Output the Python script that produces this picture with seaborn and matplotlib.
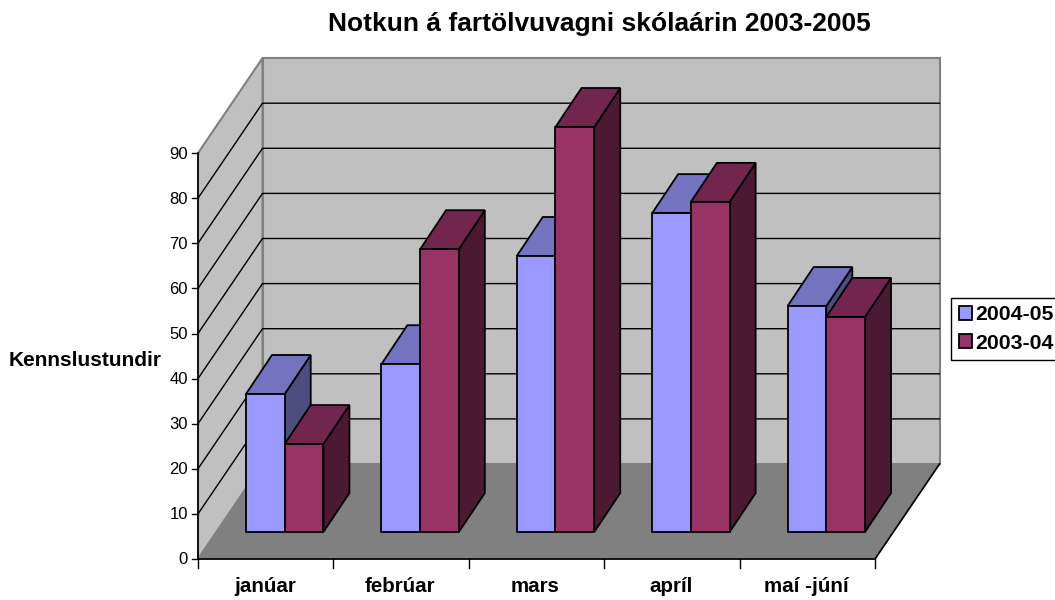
import seaborn as sns
import matplotlib.pyplot as plt
import pandas as pd
from matplotlib.patches import Polygon

months = ["janúar", "febrúar", "mars", "apríl", "maí -júní"]
hours_0405 = [30.6, 37.2, 61.2, 70.7, 50.1]
hours_0304 = [19.5, 62.7, 89.8, 73.2, 47.7]
series = ["2004-05", "2003-04"]
value_ticks = list(range(0, 100, 10))

front_col = {"2004-05": "#9999FF", "2003-04": "#993366"}
top_col = {"2004-05": "#7373BF", "2003-04": "#73264D"}
side_col = {"2004-05": "#4D4D80", "2003-04": "#4C1933"}

plt.rcParams["font.family"] = ["Liberation Sans", "DejaVu Sans"]

df = pd.DataFrame({
    "month": months * 2,
    "hours": hours_0405 + hours_0304,
    "year": [series[0]] * 5 + [series[1]] * 5,
})

fig = plt.figure(figsize=(10.55, 6), dpi=100)
ax = fig.add_axes([0, 0, 1, 1])
sns.barplot(data=df, x="month", y="hours", hue="year", hue_order=series, order=months,
            palette=front_col, width=0.572, gap=0, saturation=1,
            edgecolor="black", linewidth=1.3, ax=ax)

# data units <-> pixels of the picture, bar bases sit at value 0
cat_px = 135.4
val_px = 4.51
left_px = 217
base_px = 532
ax.set_xlim(-0.5 - left_px / cat_px, -0.5 + (1055 - left_px) / cat_px)
ax.set_ylim((base_px - 600) / val_px, base_px / val_px)
ax.axis("off")

# depth offsets, in data units
floor_dx, floor_dy = 19 / cat_px, 27 / val_px      # front of the floor -> bar base
wall_dx, wall_dy = 64.5 / cat_px, 95 / val_px      # front of the floor -> back wall
bar_dx, bar_dy = 26 / cat_px, 39 / val_px          # bar depth

x0 = -0.5 - floor_dx
x1 = 4.5 - floor_dx
y0 = -floor_dy
ytop = y0 + value_ticks[-1]

wall_edge = "#808080"
ax.add_patch(Polygon([(x0 + wall_dx, y0 + wall_dy), (x1 + wall_dx, y0 + wall_dy),
                      (x1 + wall_dx, ytop + wall_dy), (x0 + wall_dx, ytop + wall_dy)],
                     fc="#C0C0C0", ec=wall_edge, lw=1.5, zorder=1))
ax.add_patch(Polygon([(x0, y0), (x0 + wall_dx, y0 + wall_dy),
                      (x0 + wall_dx, ytop + wall_dy), (x0, ytop)],
                     fc="#C0C0C0", ec=wall_edge, lw=1.5, zorder=1))
ax.add_patch(Polygon([(x0, y0), (x1, y0), (x1 + wall_dx, y0 + wall_dy), (x0 + wall_dx, y0 + wall_dy)],
                     fc="#808080", ec=wall_edge, lw=1, zorder=1.5))

# grid on both walls
for v in value_ticks[1:-1]:
    ax.plot([x0, x0 + wall_dx, x1 + wall_dx],
            [y0 + v, y0 + v + wall_dy, y0 + v + wall_dy], color="black", lw=1, zorder=2)

# axis lines and ticks
ax.plot([x0, x0], [y0, ytop], color="black", lw=1.2, zorder=3)
ax.plot([x0, x1, x1 + wall_dx], [y0, y0, y0 + wall_dy], color="black", lw=1.2, zorder=3)
tick_x = 6 / cat_px
tick_y = 9 / val_px
for v in value_ticks:
    ax.plot([x0 - tick_x, x0], [y0 + v, y0 + v], color="black", lw=1, zorder=3)
    ax.text(x0 - 10 / cat_px, y0 + v - 1 / val_px, str(v), ha="right", va="center", fontsize=12)
for i in range(len(months) + 1):
    ax.plot([x0 + i, x0 + i], [y0, y0 - tick_y], color="black", lw=1, zorder=3)
for i, m in enumerate(months):
    ax.text(x0 + i + 0.5 - 1 / cat_px, y0 - 33 / val_px, m, ha="center", va="baseline",
            fontsize=14.8, fontweight="bold")

# bar depth: every bar gets its side and top, nearer bars drawn later
for j, (container, name) in enumerate(zip(ax.containers, series)):
    for i, bar in enumerate(container):
        z = 5 + i * 2 + j + 0.5
        l, r = bar.get_x(), bar.get_x() + bar.get_width()
        h = bar.get_height()
        ax.add_patch(Polygon([(r, 0), (r + bar_dx, bar_dy), (r + bar_dx, h + bar_dy), (r, h)],
                             fc=side_col[name], ec="black", lw=1.3, zorder=z))
        ax.add_patch(Polygon([(l, h), (r, h), (r + bar_dx, h + bar_dy), (l + bar_dx, h + bar_dy)],
                             fc=top_col[name], ec="black", lw=1.3, zorder=z))
        bar.set_zorder(z + 0.1)

fig.text(599 / 1055, 1 - 24 / 600, "Notkun á fartölvuvagni skólaárin 2003-2005",
         ha="center", va="center", fontsize=19, fontweight="bold")
fig.text(85 / 1055, 1 - 361 / 600, "Kennslustundir", ha="center", va="center",
         fontsize=15, fontweight="bold")

handles, labels = ax.get_legend_handles_labels()
ax.legend(handles, labels, loc="center left", bbox_to_anchor=(951 / 1055, 1 - 329 / 600),
          prop={"weight": "bold", "size": 15.3}, frameon=True, fancybox=False,
          edgecolor="black", framealpha=1, borderaxespad=0, borderpad=0.36, labelspacing=0.44,
          handlelength=0.62, handleheight=0.66, handletextpad=0.15)

fig.savefig("out.png", dpi=100)
